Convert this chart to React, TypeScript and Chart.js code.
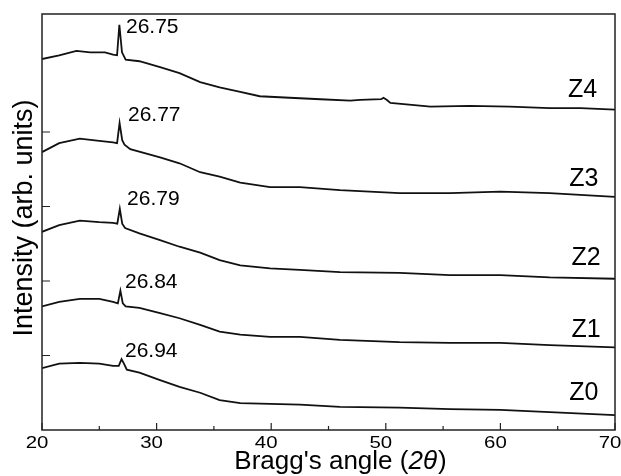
import { useEffect, useRef } from "react";
import { Chart, registerables } from "chart.js";

Chart.register(...registerables);

const FONT = "'Liberation Sans', Arial, Helvetica, sans-serif";

// Bragg angle (2θ, degrees) and normalised intensity (arb. units, stacked)
const angleZ4 = [20, 21.5, 23, 24.2, 25.5, 26.2, 26.55, 26.75, 26.98, 27.3, 28.5, 30.3, 32, 33.8, 35.5, 37.3, 39, 41.6, 44.3, 46.9, 47.75, 49.6, 49.8, 50.1, 50.4, 53.9, 57.3, 60.8, 64.3, 67, 70];
const intensityZ4 = [4.98, 5.03, 5.09, 5.07, 5.07, 5.04, 5.03, 5.44, 5.07, 4.97, 4.95, 4.87, 4.79, 4.67, 4.6, 4.54, 4.48, 4.46, 4.44, 4.42, 4.43, 4.44, 4.46, 4.43, 4.39, 4.34, 4.35, 4.34, 4.32, 4.32, 4.3];

const angleZ3 = [20, 21.5, 23.3, 25, 26.2, 26.55, 26.77, 27.0, 27.2, 27.7, 30.3, 32, 33.8, 35.5, 37.3, 39.9, 42.5, 46, 51.2, 55.6, 60, 64.3, 70];
const intensityZ3 = [3.73, 3.85, 3.91, 3.88, 3.86, 3.85, 4.12, 3.89, 3.83, 3.77, 3.66, 3.58, 3.46, 3.4, 3.32, 3.26, 3.26, 3.22, 3.18, 3.18, 3.2, 3.18, 3.13];

const angleZ2 = [20, 21.5, 23.3, 25, 26.2, 26.57, 26.79, 27.0, 27.25, 28.5, 30.3, 32, 33.8, 35.5, 37.3, 39.9, 42.5, 46, 51.2, 55.6, 60, 64.3, 70];
const intensityZ2 = [2.66, 2.75, 2.81, 2.79, 2.78, 2.77, 2.97, 2.77, 2.71, 2.64, 2.55, 2.46, 2.38, 2.28, 2.21, 2.17, 2.15, 2.12, 2.11, 2.08, 2.08, 2.05, 2.03];

const angleZ1 = [20, 21.5, 23.3, 25, 26.2, 26.62, 26.84, 27.05, 27.3, 28.5, 30.3, 32, 33.8, 35.5, 37.3, 39.9, 42.5, 46, 51.2, 55.6, 60, 64.3, 70];
const intensityZ1 = [1.66, 1.72, 1.76, 1.76, 1.72, 1.7, 1.87, 1.7, 1.66, 1.64, 1.57, 1.5, 1.41, 1.32, 1.28, 1.25, 1.25, 1.21, 1.18, 1.17, 1.17, 1.14, 1.11];

const angleZ0 = [20, 21.5, 23.3, 25, 26.2, 26.7, 26.94, 27.15, 27.4, 28.5, 30.3, 32, 33.8, 35.5, 37.3, 39.9, 42.5, 46, 51.2, 55.6, 60, 64.3, 70];
const intensityZ0 = [0.83, 0.89, 0.9, 0.89, 0.86, 0.86, 0.95, 0.89, 0.81, 0.77, 0.67, 0.58, 0.5, 0.4, 0.36, 0.35, 0.34, 0.31, 0.3, 0.28, 0.27, 0.24, 0.2];

const sampleNames = ["Z0", "Z1", "Z2", "Z3", "Z4"];
const peakLabels = ["26.94", "26.84", "26.79", "26.77", "26.75"];
// text anchors in data coordinates (angle, intensity)
const peakLabelAngle = [27.24, 27.24, 27.42, 27.5, 27.33];
const peakLabelIntensity = [0.98, 1.91, 3.02, 4.15, 5.33];
const nameLabelAngle = [66.0, 66.2, 66.2, 66.0, 65.9];
const nameLabelIntensity = [0.4, 1.25, 2.21, 3.28, 4.47];

const xTickValues = [20, 30, 40, 50, 60, 70];
const xTickLabels = ["20", "30", "40", "50", "60", "70"];
const xMinorTickValues = [25, 35, 45, 55, 65];
const yTickValues = [1, 2, 3, 4];

const seriesAngles = [angleZ0, angleZ1, angleZ2, angleZ3, angleZ4];
const seriesIntensities = [intensityZ0, intensityZ1, intensityZ2, intensityZ3, intensityZ4];

const decorPlugin = {
  id: "decor",
  afterDraw(chart: any) {
    const { ctx, chartArea: a, scales } = chart;
    const xs = scales.x;
    const ys = scales.y;
    ctx.save();
    ctx.strokeStyle = "#222";
    ctx.lineWidth = 1.5;
    ctx.strokeRect(a.left, a.top, a.right - a.left, a.bottom - a.top);
    ctx.lineWidth = 1.2;
    ctx.beginPath();
    for (const v of xTickValues) {
      const px = xs.getPixelForValue(v);
      ctx.moveTo(px, a.bottom);
      ctx.lineTo(px, a.bottom - 7);
    }
    for (const v of xMinorTickValues) {
      const px = xs.getPixelForValue(v);
      ctx.moveTo(px, a.bottom);
      ctx.lineTo(px, a.bottom - 4);
    }
    for (const v of yTickValues) {
      const py = ys.getPixelForValue(v);
      ctx.moveTo(a.left, py);
      ctx.lineTo(a.left + 8, py);
    }
    ctx.stroke();

    ctx.fillStyle = "#000";
    ctx.textBaseline = "alphabetic";

    // x tick labels (slightly wide digits, as in the figure)
    ctx.textAlign = "center";
    ctx.font = `17px ${FONT}`;
    xTickValues.forEach((v, i) => {
      const px = xs.getPixelForValue(v) - 5;
      ctx.save();
      ctx.translate(px, a.bottom + 18);
      ctx.scale(1.2, 1);
      ctx.fillText(xTickLabels[i], 0, 0);
      ctx.restore();
    });

    ctx.textAlign = "left";
    ctx.font = `21px ${FONT}`;
    peakLabels.forEach((t, i) => {
      ctx.fillText(t, xs.getPixelForValue(peakLabelAngle[i]), ys.getPixelForValue(peakLabelIntensity[i]));
    });
    ctx.font = `25px ${FONT}`;
    sampleNames.forEach((t, i) => {
      ctx.fillText(t, xs.getPixelForValue(nameLabelAngle[i]), ys.getPixelForValue(nameLabelIntensity[i]));
    });

    // x axis title with italic 2θ
    const part1 = "Bragg's angle (";
    const part2 = "2θ";
    const part3 = ")";
    const fs = 26;
    ctx.font = `${fs}px ${FONT}`;
    const w1 = ctx.measureText(part1).width;
    const w3 = ctx.measureText(part3).width;
    ctx.font = `italic ${fs}px ${FONT}`;
    const w2 = ctx.measureText(part2).width;
    const total = w1 + w2 + w3;
    const cx = 340;
    let x0 = cx - total / 2;
    const by = 469;
    ctx.font = `${fs}px ${FONT}`;
    ctx.fillText(part1, x0, by);
    x0 += w1;
    ctx.font = `italic ${fs}px ${FONT}`;
    ctx.fillText(part2, x0, by);
    x0 += w2 + 1;
    ctx.font = `${fs}px ${FONT}`;
    ctx.fillText(part3, x0, by);

    // y axis title
    ctx.save();
    ctx.translate(25, 218);
    ctx.rotate(-Math.PI / 2);
    ctx.textAlign = "center";
    ctx.textBaseline = "middle";
    ctx.font = `27px ${FONT}`;
    ctx.fillText("Intensity (arb. units)", 0, 0);
    ctx.restore();

    ctx.restore();
  },
};

export default function App() {
  const ref = useRef<HTMLCanvasElement | null>(null);
  useEffect(() => {
    document.body.style.margin = "0";
    if (!ref.current) return;
    const datasets = seriesAngles.map((angles, i) => ({
      label: sampleNames[i],
      data: angles.map((x, j) => ({ x, y: seriesIntensities[i][j] })),
      borderColor: "#111",
      borderWidth: 1.8,
      pointRadius: 0,
      tension: 0,
      fill: false,
    }));
    const chart = new Chart(ref.current, {
      type: "line",
      data: { datasets },
      options: {
        animation: false,
        responsive: false,
        maintainAspectRatio: false,
        layout: { padding: { left: 42, right: 6, top: 14, bottom: 46 } },
        plugins: { legend: { display: false }, tooltip: { enabled: false } },
        scales: {
          x: {
            type: "linear",
            display: false,
            min: 20,
            max: 70,
          },
          y: {
            type: "linear",
            display: false,
            min: 0,
            max: 5.584,
          },
        },
      },
      plugins: [decorPlugin],
    });
    return () => chart.destroy();
  }, []);
  return (
    <div style={{ width: 621, height: 476 }}>
      <canvas ref={ref} width={621} height={476} style={{ display: "block" }} />
    </div>
  );
}
